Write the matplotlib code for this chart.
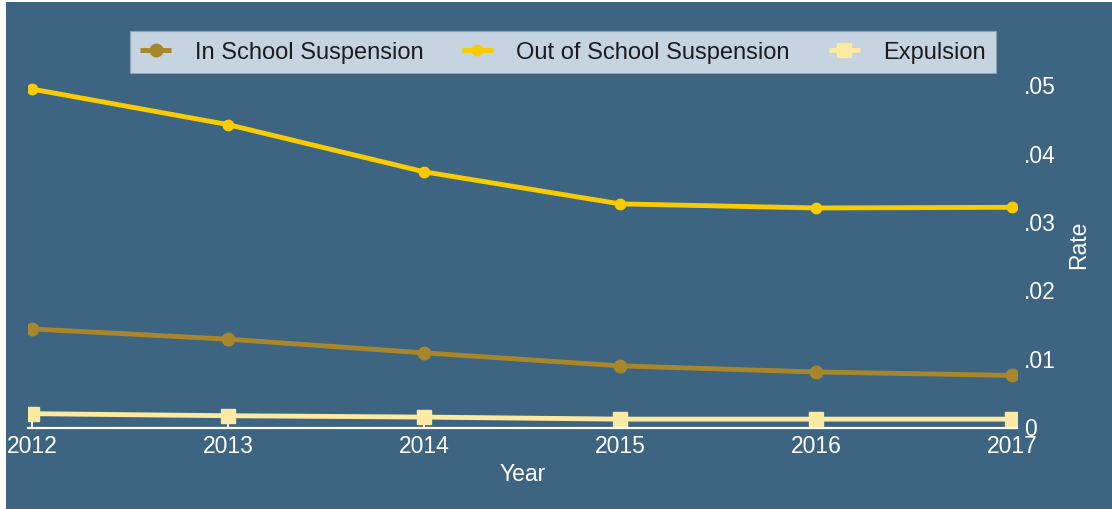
import numpy as np
import matplotlib
matplotlib.use('Agg')
import matplotlib.pyplot as plt
from matplotlib.patches import Rectangle

# data
years = [2012, 2013, 2014, 2015, 2016, 2017]
in_school = [0.0142, 0.0127, 0.0107, 0.0088, 0.0079, 0.0074]
out_school = [0.0493, 0.0441, 0.0372, 0.0325, 0.0319, 0.0320]
expulsion = [0.0018, 0.0015, 0.0013, 0.0010, 0.0010, 0.0010]
yticks = [0, 0.01, 0.02, 0.03, 0.04, 0.05]
ytick_labels = ['0', '.01', '.02', '.03', '.04', '.05']

plt.rcParams['font.family'] = ['Liberation Sans', 'DejaVu Sans']

bg = '#3d6480'
W, H = 1112, 510

fig = plt.figure(figsize=(W / 100, H / 100), dpi=100, facecolor='white')
# blue panel with a thin white margin at left and top
fig.patches.append(Rectangle((6 / W, 0), 1, (H - 3) / H, transform=fig.transFigure,
                             facecolor=bg, edgecolor='none', zorder=-10))

ax = fig.add_axes([27.7 / W, (H - 429.3) / H, (1017 - 27.7) / W, 369.3 / H])
ax.set_facecolor('none')

ax.plot(years, in_school, color='#a8862c', lw=3.5, marker='o', ms=9,
        label='In School Suspension', solid_capstyle='butt')
ax.plot(years, out_school, color='#f8cc00', lw=3.5, marker='o', ms=7.5,
        label='Out of School Suspension', solid_capstyle='butt')
ax.plot(years, expulsion, color='#fce9a2', lw=3.5, marker='s', ms=9.5,
        label='Expulsion', solid_capstyle='butt')

ax.set_xlim(2012 - 4.3 / 196, 2017 + 5 / 196)
ax.set_ylim(-0.00034, 0.0537)

for s in ['top', 'left', 'right']:
    ax.spines[s].set_visible(False)
ax.spines['bottom'].set_color('white')
ax.spines['bottom'].set_linewidth(1.6)

ax.set_xticks(years)
ax.set_xticklabels([str(y) for y in years])
ax.tick_params(axis='x', direction='in', length=5, width=1.3, color='white',
               labelcolor='white', labelsize=16.5, pad=4)

ax.yaxis.tick_right()
ax.yaxis.set_label_position('right')
ax.set_yticks(yticks)
ax.set_yticklabels(ytick_labels)
ax.tick_params(axis='y', length=0, labelcolor='white', labelsize=16.5, pad=5)

ax.set_xlabel('Year', color='white', fontsize=16.5, labelpad=4)
ax.set_ylabel('Rate', color='white', fontsize=16.5, labelpad=8)

leg = fig.legend(loc='center', bbox_to_anchor=(563 / W, 1 - 53 / H), ncol=3,
                 frameon=True, fancybox=False, fontsize=17,
                 handlelength=1.3, handletextpad=1.0, columnspacing=1.65,
                 borderpad=0.42)
leg.get_frame().set_facecolor('#c6d4e2')
leg.get_frame().set_edgecolor('#8ea2b4')
leg.get_frame().set_linewidth(0.8)
leg.get_frame().set_alpha(1)
for t in leg.get_texts():
    t.set_color('#1c1c1c')

fig.savefig('out.png', dpi=100, facecolor=fig.get_facecolor())
